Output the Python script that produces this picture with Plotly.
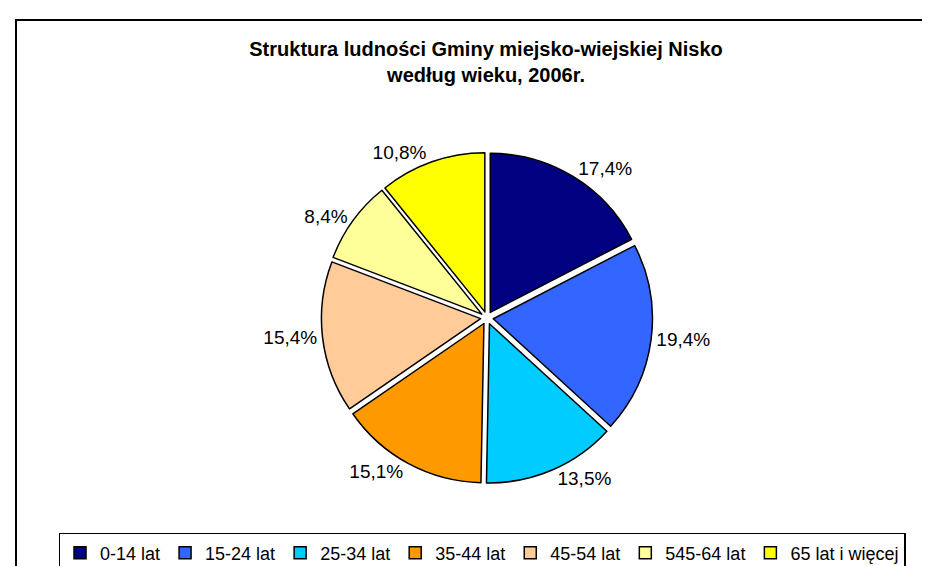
import plotly.graph_objects as go

labels = ["0-14 lat", "15-24 lat", "25-34 lat", "35-44 lat", "45-54 lat", "545-64 lat", "65 lat i więcej"]
values = [17.4, 19.4, 13.5, 15.1, 15.4, 8.4, 10.8]
colors = ["#000080", "#3366FF", "#00CCFF", "#FF9900", "#FFCC99", "#FFFF99", "#FFFF00"]
text_labels = [f"{v:.1f}%".replace(".", ",") for v in values]

FONT = "Liberation Sans, Arial"

fig = go.Figure(go.Pie(
    labels=labels,
    values=values,
    sort=False,
    direction="clockwise",
    rotation=0,
    marker=dict(colors=colors, line=dict(color="#000000", width=1.5)),
    pull=[0.04] * len(values),
    text=text_labels,
    textinfo="text",
    textposition="outside",
    textfont=dict(family=FONT, size=19, color="#000000"),
    outsidetextfont=dict(family=FONT, size=19, color="#000000"),
    domain=dict(x=[0.05, 0.98], y=[0.16, 0.745]),
    hoverinfo="label+percent",
))

fig.update_layout(
    width=930, height=566,
    margin=dict(l=0, r=0, t=0, b=0, autoexpand=False),
    paper_bgcolor="white",
    plot_bgcolor="white",
    title=dict(
        text="<b>Struktura ludności Gminy miejsko-wiejskiej Nisko<br>według wieku, 2006r.</b>",
        x=0.514, xanchor="center", y=0.915, yanchor="top",
        font=dict(family=FONT, size=20, color="#000000"),
    ),
    legend=dict(
        orientation="h",
        x=0.5097, xanchor="center",
        y=0.0725, yanchor="top",
        bordercolor="#000000", borderwidth=1.5,
        bgcolor="white",
        font=dict(family=FONT, size=18, color="#000000"),
        itemwidth=30,
        traceorder="normal",
    ),
    shapes=[dict(
        type="rect", xref="paper", yref="paper",
        x0=8 / 930, x1=1.02, y0=-0.05, y1=1 - 12 / 566,
        line=dict(color="#000000", width=2),
    )],
)

fig.write_html("out.html")
